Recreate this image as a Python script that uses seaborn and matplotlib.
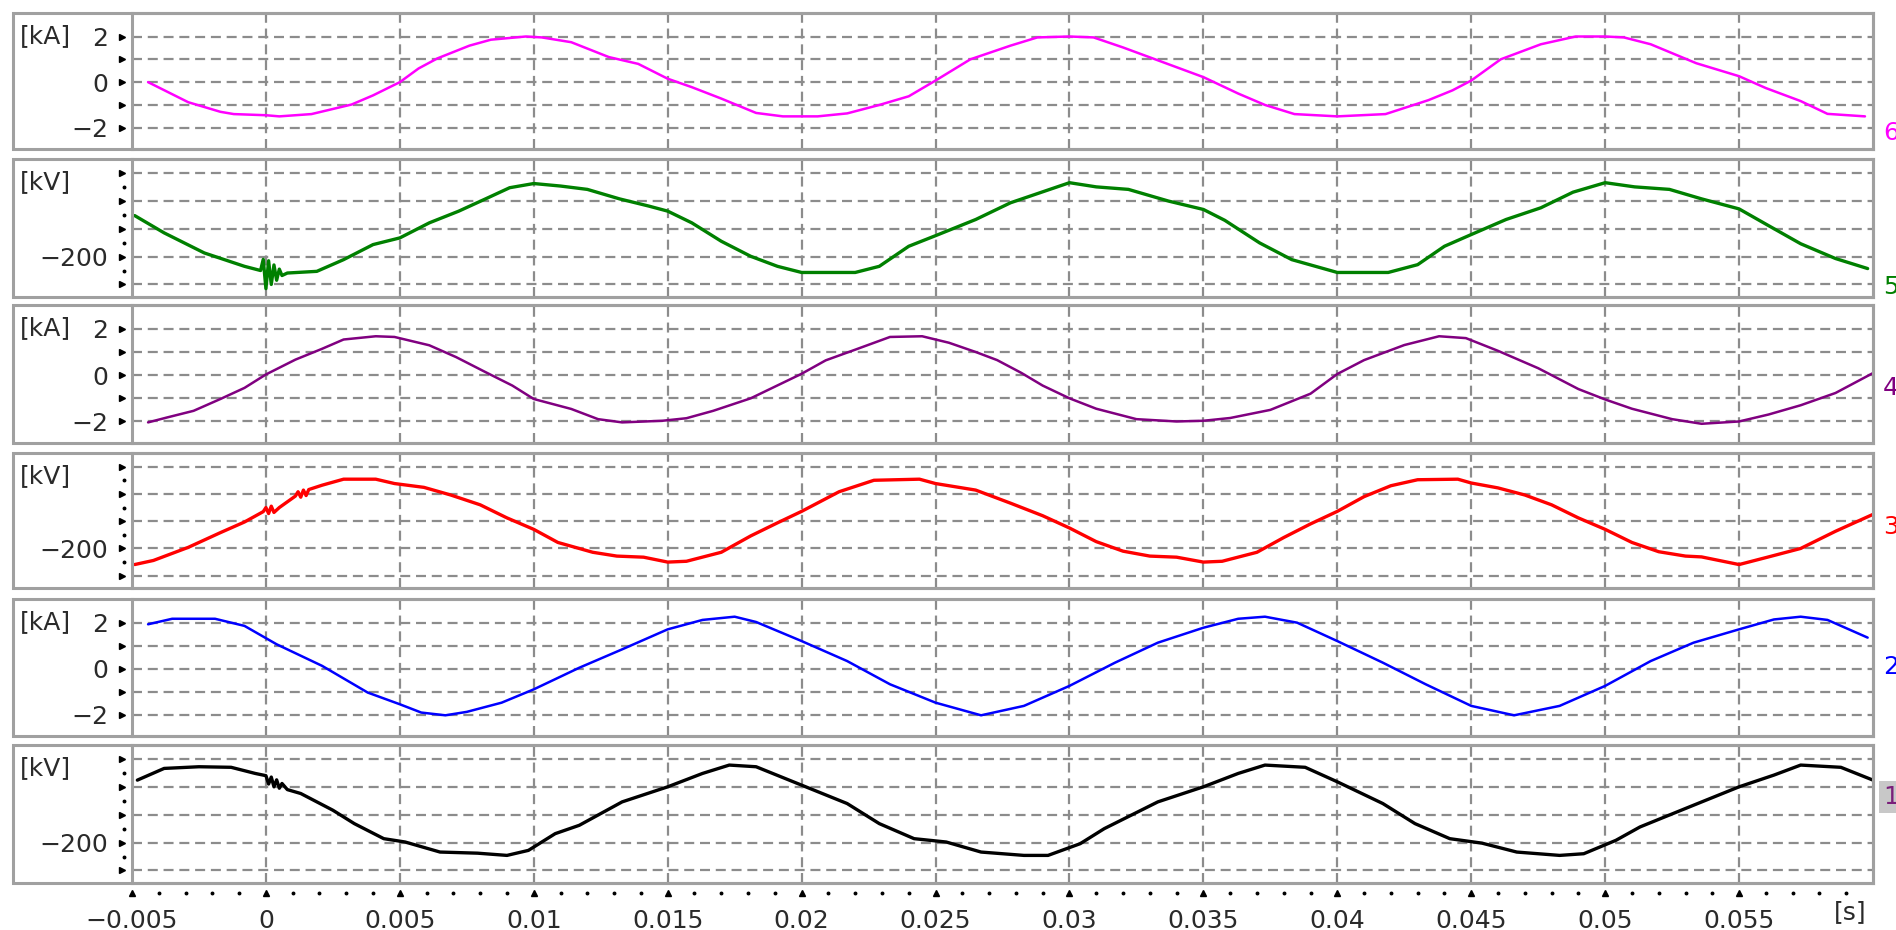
import numpy as np
import pandas as pd
import seaborn as sns
import matplotlib.pyplot as plt
from matplotlib.patches import Rectangle
from matplotlib.transforms import blended_transform_factory

# ---------------- data: (time [s], value) ----------------
ch6_ia = [(-0.0044, 0.0), (-0.0029, -0.88), (-0.0017, -1.3), (-0.0012, -1.4), (0.0, -1.45), (0.0005, -1.5),
          (0.0017, -1.4), (0.0032, -0.98), (0.0040, -0.58), (0.005, 0.0), (0.0057, 0.6), (0.0064, 1.04),
          (0.0076, 1.6), (0.0084, 1.86), (0.0097, 2.0), (0.0103, 1.96), (0.0114, 1.75), (0.0128, 1.1),
          (0.0139, 0.8), (0.015, 0.15), (0.0159, -0.22), (0.017, -0.72), (0.0183, -1.35), (0.0193, -1.5),
          (0.0206, -1.5), (0.0217, -1.37), (0.0229, -1.0), (0.024, -0.62), (0.025, 0.07), (0.0263, 1.0),
          (0.0278, 1.6), (0.0288, 1.96), (0.030, 2.0), (0.0309, 1.96), (0.0320, 1.52), (0.0335, 0.87),
          (0.035, 0.22), (0.0363, -0.5), (0.0373, -1.0), (0.0384, -1.4), (0.040, -1.5), (0.0418, -1.4),
          (0.0434, -0.79), (0.0443, -0.36), (0.045, 0.07), (0.0461, 1.0), (0.0476, 1.66), (0.0489, 2.0),
          (0.050, 2.0), (0.0507, 1.96), (0.0517, 1.66), (0.0534, 0.83), (0.055, 0.26), (0.0560, -0.26),
          (0.0573, -0.83), (0.0583, -1.39), (0.0597, -1.5)]

ch5_ua = [(-0.0049, -53), (-0.0038, -115), (-0.0023, -187), (-0.0008, -235), (-0.0002, -250),
          (-0.0001, -210), (0.0, -315), (0.0001, -215), (0.0002, -300), (0.0003, -230), (0.0004, -285),
          (0.0005, -245), (0.0006, -268), (0.0008, -259), (0.0019, -253), (0.0029, -211), (0.004, -157),
          (0.005, -133), (0.0061, -79), (0.0072, -37), (0.0082, 7), (0.0091, 47), (0.010, 62), (0.0110, 53),
          (0.0120, 41), (0.0132, 7), (0.0143, -19), (0.015, -37), (0.0159, -79), (0.0170, -145),
          (0.0181, -199), (0.0191, -235), (0.020, -257), (0.0220, -257), (0.0229, -235), (0.024, -163),
          (0.025, -125), (0.0265, -67), (0.0278, -7), (0.0289, 29), (0.030, 65), (0.0310, 50), (0.0322, 41),
          (0.0337, -1), (0.035, -31), (0.0358, -70), (0.0371, -151), (0.0383, -211), (0.040, -257),
          (0.0419, -257), (0.0430, -229), (0.044, -163), (0.045, -121), (0.0463, -67), (0.0476, -25),
          (0.0488, 31), (0.050, 65), (0.0511, 50), (0.0524, 41), (0.0536, 7), (0.055, -29), (0.0561, -89),
          (0.0573, -154), (0.0586, -207), (0.0598, -243)]

ch4_ib = [(-0.0044, -2.04), (-0.0037, -1.83), (-0.0027, -1.54), (-0.0017, -1.03), (-0.0008, -0.55),
          (0.0, 0.03), (0.0011, 0.67), (0.0021, 1.14), (0.0029, 1.54), (0.0041, 1.68), (0.0048, 1.65),
          (0.0061, 1.29), (0.0071, 0.78), (0.0082, 0.13), (0.0092, -0.45), (0.010, -1.03), (0.0114, -1.46),
          (0.0124, -1.9), (0.0133, -2.04), (0.0148, -1.97), (0.0157, -1.86), (0.0167, -1.54), (0.0181, -1.0),
          (0.020, 0.06), (0.0209, 0.64), (0.0220, 1.1), (0.0233, 1.65), (0.0245, 1.68), (0.0255, 1.4),
          (0.0265, 1.0), (0.0273, 0.65), (0.0282, 0.1), (0.029, -0.45), (0.030, -1.0), (0.031, -1.45),
          (0.0325, -1.9), (0.034, -2.0), (0.035, -1.97), (0.036, -1.85), (0.0375, -1.5), (0.039, -0.8),
          (0.040, 0.05), (0.041, 0.65), (0.0425, 1.3), (0.0438, 1.68), (0.0448, 1.6), (0.046, 1.05),
          (0.0475, 0.3), (0.049, -0.6), (0.050, -1.05), (0.051, -1.45), (0.0525, -1.9), (0.0536, -2.1),
          (0.055, -2.0), (0.0561, -1.7), (0.0573, -1.3), (0.0586, -0.77), (0.060, 0.09)]

ch3_ub = [(-0.0049, -259), (-0.0042, -244), (-0.0029, -196), (-0.0017, -142), (-0.0008, -103),
          (-0.0001, -65), (0.0, -50), (0.0001, -72), (0.0002, -45), (0.0003, -68), (0.0005, -50),
          (0.0011, -8), (0.0012, 8), (0.0013, -12), (0.0014, 14), (0.0015, -6), (0.0016, 16),
          (0.0021, 32), (0.0029, 54), (0.0041, 54), (0.0048, 38), (0.0059, 24), (0.0069, -4), (0.008, -40),
          (0.0090, -88), (0.010, -130), (0.0109, -178), (0.0122, -214), (0.0131, -228), (0.0141, -232),
          (0.015, -250), (0.0157, -247), (0.0170, -214), (0.0181, -154), (0.0191, -106), (0.020, -64),
          (0.0214, 8), (0.0227, 50), (0.0244, 54), (0.025, 38), (0.0265, 14), (0.0278, -34), (0.029, -80),
          (0.030, -125), (0.031, -175), (0.032, -210), (0.033, -228), (0.034, -232), (0.035, -250),
          (0.0357, -247), (0.037, -214), (0.038, -160), (0.039, -110), (0.040, -64), (0.041, -10),
          (0.042, 30), (0.043, 52), (0.0445, 54), (0.045, 40), (0.046, 22), (0.047, -4), (0.048, -40),
          (0.049, -88), (0.050, -130), (0.051, -178), (0.052, -212), (0.053, -228), (0.0536, -231),
          (0.055, -259), (0.0561, -231), (0.0573, -200), (0.0586, -137), (0.060, -75)]

ch2_ic = [(-0.0044, 1.93), (-0.0035, 2.17), (-0.0019, 2.17), (-0.0008, 1.86), (0.0004, 1.06), (0.0021, 0.12),
          (0.0038, -1.04), (0.005, -1.55), (0.0058, -1.91), (0.0067, -2.03), (0.0075, -1.88), (0.0088, -1.48),
          (0.010, -0.9), (0.0117, 0.04), (0.0133, 0.84), (0.015, 1.71), (0.0163, 2.12), (0.0175, 2.26),
          (0.0183, 2.03), (0.020, 1.2), (0.0217, 0.33), (0.0233, -0.68), (0.025, -1.48), (0.0267, -2.03),
          (0.0283, -1.62), (0.030, -0.75), (0.0317, 0.26), (0.0333, 1.13), (0.035, 1.78), (0.0363, 2.17),
          (0.0373, 2.26), (0.0385, 2.0), (0.040, 1.2), (0.0417, 0.26), (0.0433, -0.68), (0.045, -1.62),
          (0.0466, -2.03), (0.0483, -1.62), (0.050, -0.75), (0.0517, 0.33), (0.0533, 1.13), (0.055, 1.71),
          (0.0563, 2.14), (0.0573, 2.26), (0.0583, 2.12), (0.0598, 1.35)]

ch1_uc = [(-0.0048, 24), (-0.0038, 66), (-0.0025, 72), (-0.0013, 70), (-0.0004, 48), (0.0, 40), (0.0001, 10),
          (0.0002, 35), (0.0003, 0), (0.0004, 25), (0.0005, -5), (0.0006, 12), (0.0008, -10),
          (0.0013, -24), (0.0025, -84), (0.0033, -132), (0.0044, -186), (0.0052, -198), (0.0065, -234),
          (0.0079, -238), (0.009, -246), (0.0098, -228), (0.0108, -168), (0.0117, -138), (0.0133, -54),
          (0.015, 0), (0.0163, 48), (0.0173, 78), (0.0183, 72), (0.020, 6), (0.0217, -60), (0.0229, -132),
          (0.0242, -186), (0.0254, -198), (0.0267, -234), (0.0283, -246), (0.0292, -246), (0.0304, -204),
          (0.0313, -150), (0.0333, -54), (0.035, 0), (0.0363, 48), (0.0373, 78), (0.0388, 70), (0.040, 18),
          (0.0417, -60), (0.0429, -132), (0.0442, -186), (0.0454, -202), (0.0467, -234), (0.0483, -246),
          (0.0492, -240), (0.0504, -192), (0.0513, -144), (0.0533, -66), (0.055, 0), (0.0563, 42),
          (0.0573, 78), (0.0588, 70), (0.060, 24)]

units = ["[kA]", "[kV]", "[kA]", "[kV]", "[kA]", "[kV]"]
channel_ids = ["6", "5", "4", "3", "2", "1"]
colors = ["#ff00ff", "#008000", "#800080", "#ff0000", "#0000ff", "#000000"]
kA_ticks = [-2, -1, 0, 1, 2]
kA_labels = ["\u22122", "", "0", "", "2"]
kV_ticks = [-300, -200, -100, 0, 100]
kV_labels = ["", "\u2212200", "", "", ""]
x_major = [-0.005, 0, 0.005, 0.01, 0.015, 0.02, 0.025, 0.03, 0.035, 0.04, 0.045, 0.05, 0.055]
x_labels = ["\u22120.005", "0", "0.005", "0.01", "0.015", "0.02", "0.025", "0.03", "0.035", "0.04",
            "0.045", "0.05", "0.055"]

series = [ch6_ia, ch5_ua, ch4_ib, ch3_ub, ch2_ic, ch1_uc]

# ---------------- layout ----------------
sns.set_theme(style="white")
plt.rcParams["font.family"] = ["DejaVu Sans"]

W, H = 1896, 930
fig = plt.figure(figsize=(W / 100, H / 100), dpi=100, facecolor="white")

panels = [(13, 149), (159, 297), (305, 443), (453, 588), (599, 736), (745, 883)]
box_left, ax_left, ax_right = 13, 132, 1873
label_y = [133, 287, 388, 527, 667, 797]
border = "#a0a0a0"
grid_c = "#8c8c8c"
fs = 18
txt_c = "#2a2a2a"

for i, (top, bot) in enumerate(panels):
    ax = fig.add_axes([ax_left / W, 1 - bot / H, (ax_right - ax_left) / W, (bot - top) / H])
    df = pd.DataFrame(series[i], columns=["t", "v"])
    kv = units[i] == "[kV]"
    sns.lineplot(data=df, x="t", y="v", ax=ax, color=colors[i], linewidth=2.4 if kv else 1.8,
                 estimator=None, sort=False, legend=False)
    ax.set_xlim(-0.005, 0.0600)
    if kv:
        ax.set_ylim(-345, 150)
        ticks, labels = kV_ticks, kV_labels
    else:
        ax.set_ylim(-2.93, 3.03)
        ticks, labels = kA_ticks, kA_labels
    ax.set_yticks(ticks)
    ax.set_yticklabels(labels)
    ax.set_xticks(x_major)
    ax.set_xlabel("")
    ax.set_ylabel("")
    ax.grid(True, color=grid_c, linestyle=(0, (4.5, 2.6)), linewidth=1.6)
    ax.set_axisbelow(True)
    for s in ax.spines.values():
        s.set_color(border)
        s.set_linewidth(2.2)
    ax.tick_params(axis="y", length=0, pad=17, labelsize=fs, labelcolor=txt_c)
    ax.tick_params(axis="x", length=0, pad=19, labelsize=fs, labelcolor=txt_c)
    tr = blended_transform_factory(ax.transAxes, ax.transData)
    ax.plot([-10 / 1741] * len(ticks), ticks, linestyle="none", marker=">", markersize=5,
            color="black", transform=tr, clip_on=False)
    if kv:
        mids = [(a + b) / 2 for a, b in zip(ticks[:-1], ticks[1:])]
        ax.plot([-8 / 1741] * len(mids), mids, linestyle="none", marker="o", markersize=1.8,
                color="black", transform=tr, clip_on=False)
    if i < 5:
        ax.set_xticklabels([])
    else:
        ax.set_xticklabels(x_labels)
        trx = blended_transform_factory(ax.transData, ax.transAxes)
        yb = -10 / (bot - top)
        ax.plot(x_major, [yb] * len(x_major), linestyle="none", marker="^", markersize=5,
                color="black", transform=trx, clip_on=False)
        minor = [x for x in np.arange(-0.005, 0.0595, 0.001)
                 if min(abs(x - m) for m in x_major) > 1e-6]
        ax.plot(minor, [yb] * len(minor), linestyle="none", marker="o", markersize=1.8,
                color="black", transform=trx, clip_on=False)
    fig.add_artist(Rectangle((box_left / W, 1 - bot / H), (ax_right - box_left) / W, (bot - top) / H,
                             transform=fig.transFigure, fill=False, edgecolor=border, linewidth=2.2))
    fig.text(20 / W, 1 - (top + 23) / H, units[i], fontsize=fs, color=txt_c, ha="left", va="center")
    if channel_ids[i] == "1":
        fig.text(1883 / W, 1 - label_y[i] / H, channel_ids[i], fontsize=fs, color="#7a1f7a",
                 ha="left", va="center",
                 bbox=dict(boxstyle="square,pad=0.15", facecolor="#c8c8c8", edgecolor="none"))
    else:
        fig.text(1883 / W, 1 - label_y[i] / H, channel_ids[i], fontsize=fs, color=colors[i],
                 ha="left", va="center")

fig.text(1850 / W, 1 - 912 / H, "[s]", fontsize=fs, color=txt_c, ha="center", va="center")

fig.savefig("out.png", dpi=100, facecolor="white")
